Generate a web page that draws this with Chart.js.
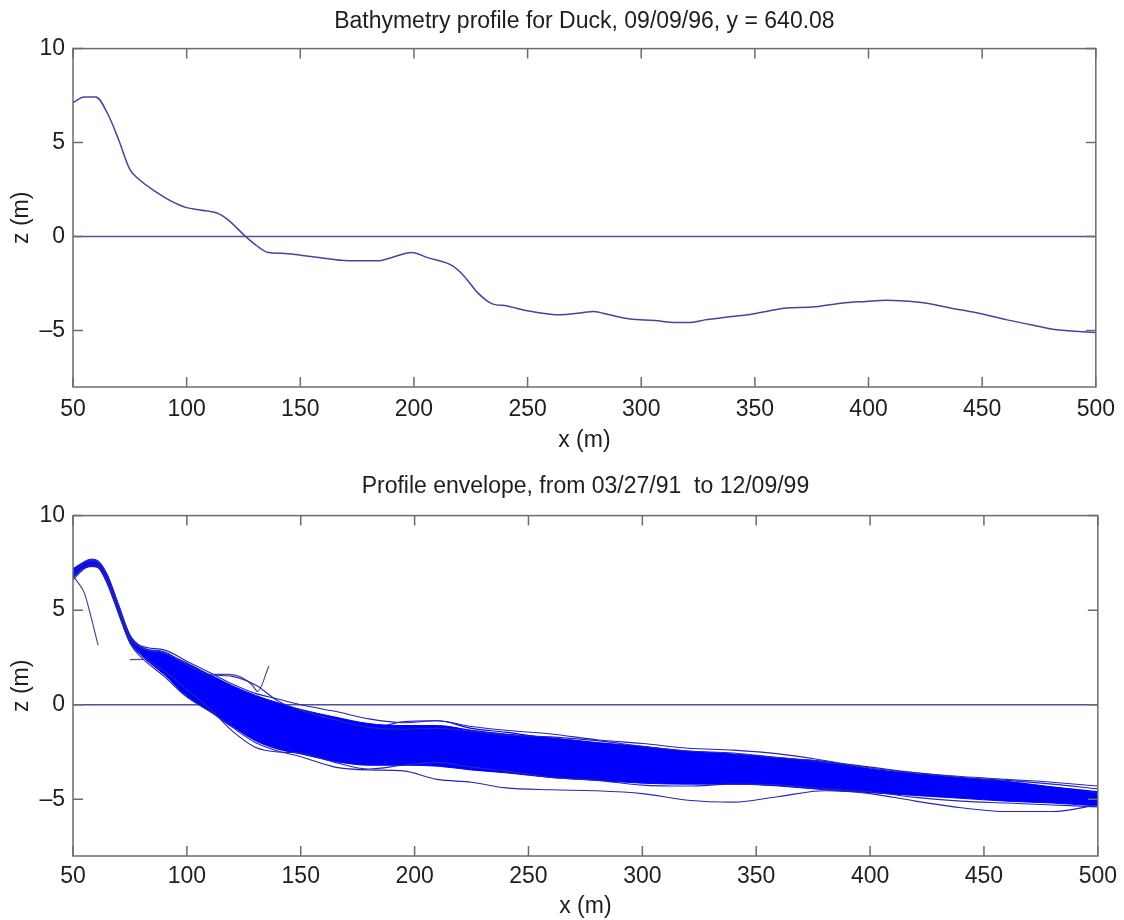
<!DOCTYPE html>
<html>
<head>
<meta charset="utf-8">
<title>Bathymetry profile, Duck</title>
<script src="https://cdn.jsdelivr.net/npm/chart.js@4.4.1/dist/chart.umd.min.js"></script>
<style>
  body { margin: 0; background: #fff; }
  #wrap { position: relative; width: 1124px; height: 920px; }
  canvas { position: absolute; left: 0; }
  #topChart { top: 0; }
  #envChart { top: 460px; }
</style>
</head>
<body>
<div id="wrap">
  <canvas id="topChart" width="1124" height="460"></canvas>
  <canvas id="envChart" width="1124" height="460"></canvas>
</div>
<script>
//Axis ticks
const xTicks = [50, 100, 150, 200, 250, 300, 350, 400, 450, 500];
const yTicks = [-5, 0, 5, 10];

//Mean water level
const zeroX = [50, 500];
const zeroZ = [0, 0];

//Profile of 09/09/96
const topX = [50, 55, 60, 65, 70, 75, 79, 87, 93, 100, 106, 114, 118, 126, 131, 136, 142, 150, 159, 168,
  175, 184, 190, 199, 206, 217, 222, 228, 234, 241, 250, 260, 264, 273, 279, 286, 295, 306, 315, 322,
  328, 337, 347, 355, 364, 375, 388, 399, 408, 414, 427, 436, 447, 461, 474, 483, 500];
const topZ = [7.13, 7.43, 7.43, 6.6, 5.18, 3.58, 3.05, 2.34, 1.9, 1.54, 1.42, 1.22, 0.92, 0, -0.5, -0.85, -0.89, -0.99, -1.12, -1.26,
  -1.29, -1.29, -1.12, -0.85, -1.12, -1.56, -2.09, -2.98, -3.55, -3.69, -3.95, -4.13, -4.16, -4.07, -3.98, -4.16, -4.38, -4.46, -4.57, -4.57,
  -4.43, -4.29, -4.16, -3.98, -3.8, -3.75, -3.54, -3.45, -3.39, -3.41, -3.57, -3.8, -4.04, -4.43, -4.75, -4.96, -5.1];

//Envelope, 03/27/91 - 12/09/99
const envX = [50, 54, 58, 61, 65, 70, 75, 80, 90, 100, 110, 120, 130, 140, 150, 165, 180, 195, 210, 225,
  240, 260, 280, 300, 320, 340, 360, 380, 400, 420, 440, 460, 480, 500];
// densest part of the bundle
const coreTop = [7.1, 7.45, 7.6, 7.5, 6.8, 5.2, 3.6, 3.0, 2.7, 2.15, 1.6, 1.0, 0.5, 0.1, -0.25, -0.65, -1.0, -1.1, -1.1, -1.35,
  -1.55, -1.75, -2.0, -2.2, -2.45, -2.6, -2.8, -3.05, -3.4, -3.65, -3.85, -4.05, -4.35, -4.65];
const coreBottom = [6.7, 7.15, 7.3, 7.25, 6.45, 4.85, 3.3, 2.6, 1.6, 0.45, -0.35, -1.15, -1.9, -2.35, -2.6, -3.0, -3.2, -3.2, -3.25, -3.45,
  -3.6, -3.85, -4.0, -4.15, -4.2, -4.2, -4.3, -4.5, -4.65, -4.8, -4.95, -5.1, -5.2, -5.35];
// single surveys that can be followed
const profile1 = [7.2, 7.5, 7.7, 7.6, 6.9, 5.3, 3.7, 3.1, 2.9, 2.3, 1.7, 1.1, 0.6, 0.3, 0.0, -0.35, -0.75, -0.95, -0.85, -1.15,
  -1.35, -1.55, -1.85, -2.05, -2.3, -2.4, -2.6, -2.95, -3.35, -3.6, -3.8, -3.95, -4.1, -4.3];
const profile2 = [6.6, 7.1, 7.35, 7.25, 6.4, 4.8, 3.25, 2.5, 1.5, 0.4, -0.35, -1.2, -2.0, -2.45, -2.75, -3.3, -3.45, -3.5, -3.95, -4.1,
  -4.4, -4.5, -4.55, -4.7, -5.05, -5.15, -4.85, -4.55, -4.7, -5.1, -5.45, -5.65, -5.65, -5.3];
const profile3 = [6.8, 7.2, 7.45, 7.35, 6.55, 4.95, 3.4, 2.65, 1.8, 0.8, -0.2, -1.4, -2.25, -2.5, -2.55, -3.05, -3.4, -3.2, -3.05, -3.3,
  -3.5, -3.85, -4.0, -4.25, -4.3, -4.2, -4.25, -4.45, -4.6, -4.9, -5.1, -5.2, -5.3, -5.4];
const profile4 = [7.0, 7.4, 7.6, 7.5, 6.8, 5.2, 3.55, 3.0, 2.8, 2.1, 1.6, 1.5, 1.05, 0.2, -0.3, -0.8, -1.2, -1.3, -1.25, -1.4,
  -1.6, -1.7, -1.9, -2.2, -2.45, -2.55, -2.8, -3.0, -3.3, -3.6, -3.85, -4.0, -4.2, -4.45];
const profile5 = [6.9, 7.35, 7.55, 7.45, 6.7, 5.1, 3.5, 2.9, 2.4, 1.6, 0.9, 0.2, -0.5, -1.0, -1.4, -1.8, -2.1, -2.0, -1.9, -2.2,
  -2.5, -2.7, -2.9, -3.1, -3.25, -3.35, -3.5, -3.7, -3.9, -4.1, -4.3, -4.5, -4.7, -4.9];
const profile6 = [7.05, 7.3, 7.5, 7.4, 6.6, 5.0, 3.45, 2.8, 2.2, 1.2, 0.4, -0.4, -1.1, -1.6, -1.9, -2.3, -2.6, -2.7, -2.6, -2.85,
  -3.1, -3.3, -3.4, -3.55, -3.7, -3.8, -3.85, -4.0, -4.2, -4.4, -4.6, -4.75, -4.9, -5.1];
const profile7 = [7.1, 7.4, 7.6, 7.5, 6.75, 5.15, 3.55, 2.95, 2.6, 1.9, 1.2, 0.6, 0.0, -0.5, -0.9, -1.4, -1.7, -1.5, -1.45, -1.8,
  -2.1, -2.3, -2.55, -2.75, -2.95, -3.05, -3.2, -3.45, -3.7, -3.9, -4.1, -4.3, -4.5, -4.75];
const profile8 = [6.75, 7.2, 7.4, 7.3, 6.5, 4.9, 3.35, 2.7, 2.0, 1.0, 0.1, -0.8, -1.5, -2.0, -2.3, -2.7, -2.95, -2.9, -2.95, -3.1,
  -3.3, -3.55, -3.7, -3.9, -3.95, -4.0, -4.1, -4.3, -4.5, -4.7, -4.85, -5.0, -5.15, -5.25];
const profile9 = [7.15, 7.45, 7.65, 7.55, 6.85, 5.25, 3.65, 3.05, 2.75, 2.2, 1.55, 0.9, 0.35, -0.05, -0.45, -0.95, -1.25, -0.9, -0.85, -1.25,
  -1.45, -1.8, -2.05, -2.25, -2.5, -2.7, -2.85, -3.0, -3.4, -3.75, -4.0, -4.15, -4.35, -4.6];
const profile10 = [6.95, 7.25, 7.5, 7.4, 6.6, 5.05, 3.4, 2.75, 2.3, 1.45, 0.7, -0.1, -0.85, -1.3, -1.65, -2.05, -2.35, -2.4, -2.3, -2.5,
  -2.8, -3.0, -3.2, -3.35, -3.45, -3.6, -3.7, -3.85, -4.05, -4.25, -4.45, -4.65, -4.8, -5.0];
const profiles = [profile1, profile2, profile3, profile4, profile5, profile6, profile7, profile8, profile9, profile10];
// short, broken surveys
const cutX = [50, 52, 55, 58, 61];
const cutZ = [6.8, 6.5, 5.9, 4.6, 3.15];
const stubX = [75, 81];
const stubZ = [2.38, 2.4];
const spikeX = [112, 118, 124, 129, 131, 136];
const spikeZ = [1.6, 1.6, 1.45, 1.0, 0.7, 2.05];

//Style
const FONT = "'Liberation Sans', Arial, Helvetica, sans-serif";
const TEXT = '#1e1e1e';
const FRAME = '#6c6c6c';
const TICK_LEN = 10;

function pts(xs, zs) {
  return xs.map((x, i) => ({x: x, y: zs[i]}));
}

function lineSet(xs, zs, color, width, order) {
  return {
    data: pts(xs, zs),
    borderColor: color,
    borderWidth: width,
    pointRadius: 0,
    fill: false,
    cubicInterpolationMode: 'monotone',
    order: order || 0
  };
}

// matlab style box, ticks pointing inwards on all four sides
const boxPlugin = {
  id: 'matlabBox',
  afterDatasetsDraw(chart) {
    const {ctx, chartArea, scales} = chart;
    const a = chartArea;
    ctx.save();
    ctx.strokeStyle = FRAME;
    ctx.lineWidth = 1.5;
    ctx.strokeRect(a.left, a.top, a.right - a.left, a.bottom - a.top);
    ctx.beginPath();
    xTicks.forEach((v) => {
      const px = scales.x.getPixelForValue(v);
      ctx.moveTo(px, a.bottom);
      ctx.lineTo(px, a.bottom - TICK_LEN);
      ctx.moveTo(px, a.top);
      ctx.lineTo(px, a.top + TICK_LEN);
    });
    yTicks.forEach((v) => {
      const py = scales.y.getPixelForValue(v);
      ctx.moveTo(a.left, py);
      ctx.lineTo(a.left + TICK_LEN, py);
      ctx.moveTo(a.right, py);
      ctx.lineTo(a.right - TICK_LEN, py);
    });
    ctx.stroke();
    ctx.restore();
  }
};

/*
Options shared by both panels, l = numbers that place the chart area
 */
function makeOptions(titleText, l) {
  const font = {family: FONT, size: 23, weight: 'normal'};
  return {
    responsive: false,
    animation: false,
    devicePixelRatio: 1,
    layout: {padding: {left: 0, right: 26, top: 0, bottom: 0}},
    plugins: {
      legend: {display: false},
      tooltip: {enabled: false},
      title: {
        display: true,
        text: titleText,
        fullSize: false,
        color: TEXT,
        font: font,
        padding: {top: l.titleTop, bottom: l.titleBottom}
      }
    },
    scales: {
      x: {
        type: 'linear',
        min: 50,
        max: 500,
        afterBuildTicks: (s) => { s.ticks = xTicks.map((v) => ({value: v})); },
        afterFit: (s) => { s.height = l.xHeight; },
        grid: {display: false, drawTicks: false},
        border: {display: false},
        ticks: {color: TEXT, font: font, padding: l.xTickPad, maxRotation: 0, autoSkip: false},
        title: {display: true, text: 'x (m)', color: TEXT, font: font, padding: {top: 0, bottom: l.xTitlePad}}
      },
      y: {
        type: 'linear',
        min: -8,
        max: 10,
        afterBuildTicks: (s) => { s.ticks = yTicks.map((v) => ({value: v})); },
        afterFit: (s) => { s.width = 73; },
        grid: {display: false, drawTicks: false},
        border: {display: false},
        ticks: {
          color: TEXT,
          font: font,
          padding: 8,
          callback: (v) => (v < 0 ? '\u2013' + Math.abs(v) : String(v))
        },
        title: {display: true, text: 'z (m)', color: TEXT, font: font, padding: {top: 8, bottom: 0}}
      }
    }
  };
}

//Top panel
new Chart(document.getElementById('topChart'), {
  type: 'line',
  data: {
    datasets: [
      lineSet(topX, topZ, '#45459c', 1.5, 0),
      lineSet(zeroX, zeroZ, '#50509a', 1.5, 1)
    ]
  },
  options: makeOptions('Bathymetry profile for Duck, 09/09/96, y = 640.08',
    {titleTop: 8, titleBottom: 13, xHeight: 73, xTickPad: 9, xTitlePad: 6}),
  plugins: [boxPlugin]
});

//Bottom panel
let envSets = [];
envSets.push(lineSet(zeroX, zeroZ, '#50509a', 1.5, 100));
profiles.forEach((p, i) => {
  // the outer surveys show up a bit darker in the original
  let color = (i < 4) ? '#2626b4' : '#0000ff';
  envSets.push(lineSet(envX, p, color, 1.1, 0));
});
envSets.push(lineSet(cutX, cutZ, '#4a4a90', 1.2, 0));
envSets.push(lineSet(stubX, stubZ, '#4a4a90', 1.2, 0));
envSets.push(lineSet(spikeX, spikeZ, '#4a4a90', 1.2, 0));
let coreTopSet = lineSet(envX, coreTop, '#0000ff', 1, 50);
let coreBottomSet = lineSet(envX, coreBottom, '#0000ff', 1, 50);
coreBottomSet.fill = '-1';
coreBottomSet.backgroundColor = '#0000ff';
envSets.push(coreTopSet);
envSets.push(coreBottomSet);

new Chart(document.getElementById('envChart'), {
  type: 'line',
  data: {datasets: envSets},
  options: makeOptions('Profile envelope, from 03/27/91  to 12/09/99',
    {titleTop: 13, titleBottom: 15, xHeight: 64, xTickPad: 7, xTitlePad: 0}),
  plugins: [boxPlugin]
});
</script>
</body>
</html>
